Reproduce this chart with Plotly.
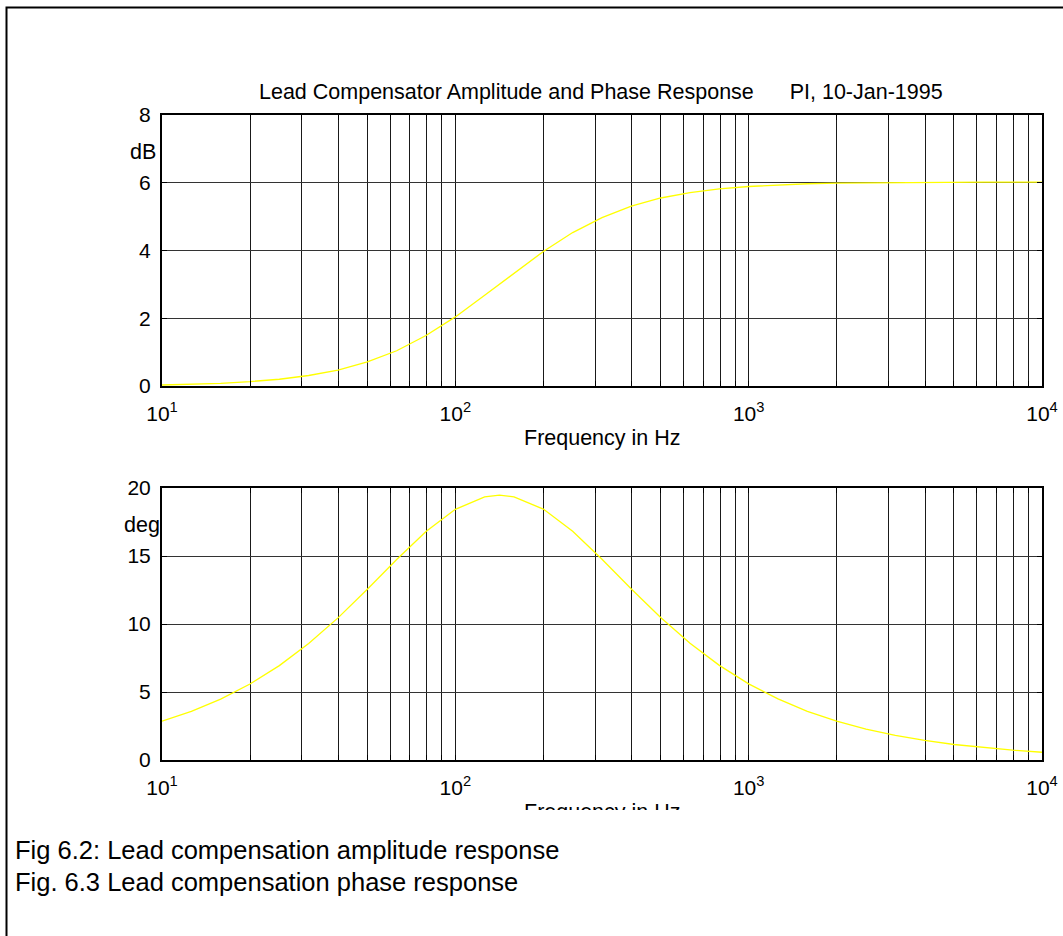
import plotly.graph_objects as go

# ---- data ----
freq_hz = [10, 12.59, 15.85, 19.95, 25.12, 31.62, 39.81, 50.12, 63.10, 79.43,
           100, 125.9, 141.4, 158.5, 199.5, 251.2, 316.2, 398.1, 501.2, 631.0, 794.3,
           1000, 1259, 1585, 1995, 2512, 3162, 3981, 5012, 6310, 7943, 10000]
amplitude_db = [0.03, 0.05, 0.08, 0.13, 0.20, 0.31, 0.47, 0.71, 1.04, 1.49,
                2.04, 2.68, 3.01, 3.34, 3.97, 4.53, 4.97, 5.31, 5.55, 5.71, 5.82,
                5.89, 5.94, 5.97, 5.99, 6.00, 6.01, 6.01, 6.02, 6.02, 6.02, 6.02]
phase_deg = [2.85, 3.58, 4.48, 5.59, 6.94, 8.57, 10.45, 12.55, 14.74, 16.80,
             18.43, 19.35, 19.47, 19.35, 18.45, 16.82, 14.76, 12.57, 10.48, 8.59, 6.96,
             5.60, 4.49, 3.58, 2.86, 2.27, 1.81, 1.44, 1.14, 0.91, 0.72, 0.57]

x_decades = [10, 100, 1000, 10000]
x_decade_labels = ["10<sup>1</sup>", "10<sup>2</sup>", "10<sup>3</sup>", "10<sup>4</sup>"]
x_minor_vals = [20, 30, 40, 50, 60, 70, 80, 90,
                200, 300, 400, 500, 600, 700, 800, 900,
                2000, 3000, 4000, 5000, 6000, 7000, 8000, 9000]
amp_ticks = [0, 2, 4, 6, 8]
phase_ticks = [0, 5, 10, 15, 20]

title_text = "Lead Compensator Amplitude and Phase Response"
title_note = "PI, 10-Jan-1995"
xlabel_text = "Frequency in Hz"
amp_unit = "dB"
phase_unit = "deg"
caption_1 = "Fig 6.2: Lead compensation amplitude response"
caption_2 = "Fig. 6.3 Lead compensation phase response"

# ---- layout helpers (pixel -> paper) ----
W, H = 1063, 936
FONT = "Arial, 'Liberation Sans', sans-serif"
TICK_SIZE = 21
TEXT_SIZE = 21.5
CAPTION_SIZE = 25.5


def px(x):
    return x / W


def py(y):
    return 1 - y / H


PLOT_L, PLOT_R = 162, 1042
TOP_T, TOP_B = 115, 386
BOT_T, BOT_B = 488, 760

fig = go.Figure()
fig.add_trace(go.Scatter(x=freq_hz, y=amplitude_db, mode="lines",
                         line=dict(color="#ffff00", width=1.3),
                         xaxis="x", yaxis="y", showlegend=False))
fig.add_trace(go.Scatter(x=freq_hz, y=phase_deg, mode="lines",
                         line=dict(color="#ffff00", width=1.3),
                         xaxis="x2", yaxis="y2", showlegend=False))

xaxis_common = dict(
    type="log", range=[1, 4], tickmode="array", tickvals=x_decades,
    ticktext=x_decade_labels, showgrid=True, gridcolor="#1a1a1a", gridwidth=1,
    minor=dict(tickmode="array", tickvals=x_minor_vals, showgrid=True,
               gridcolor="#1a1a1a", gridwidth=1, ticks="inside", ticklen=5,
               tickcolor="black", tickwidth=1),
    showline=True, linecolor="black", linewidth=2, mirror="allticks",
    ticks="inside", ticklen=5, tickcolor="black", tickwidth=1,
    ticklabelstandoff=8,
    tickfont=dict(family=FONT, size=TICK_SIZE, color="black"),
    zeroline=False, automargin=False, fixedrange=True,
)
yaxis_common = dict(
    showgrid=True, gridcolor="#333333", gridwidth=1,
    showline=True, linecolor="black", linewidth=2, mirror="allticks",
    ticks="inside", ticklen=5, tickcolor="black", tickwidth=1,
    ticklabelstandoff=5,
    tickfont=dict(family=FONT, size=TICK_SIZE, color="black"),
    zeroline=False, automargin=False, fixedrange=True,
)

fig.update_layout(
    template="none",
    width=W, height=H,
    margin=dict(l=0, r=0, t=0, b=0, pad=0),
    paper_bgcolor="white", plot_bgcolor="white",
    showlegend=False,
    xaxis=dict(domain=[px(PLOT_L), px(PLOT_R)], anchor="y", **xaxis_common),
    yaxis=dict(domain=[py(TOP_B), py(TOP_T)], anchor="x", range=[0, 8],
               tickmode="array", tickvals=amp_ticks, **yaxis_common),
    xaxis2=dict(domain=[px(PLOT_L), px(PLOT_R)], anchor="y2", **xaxis_common),
    yaxis2=dict(domain=[py(BOT_B), py(BOT_T)], anchor="x2", range=[0, 20],
                tickmode="array", tickvals=phase_ticks, **yaxis_common),
)

# outer frame (extends beyond right and bottom edges)
fig.add_shape(type="rect", xref="paper", yref="paper",
              x0=px(6.5), y0=-0.05, x1=1.05, y1=py(7.5),
              line=dict(color="black", width=2), fillcolor="rgba(0,0,0,0)")

ann = []
ann.append(dict(text=title_text + "\u00a0" * 6 + title_note,
                x=px(601), y=py(92), xanchor="center", yanchor="middle",
                font=dict(family=FONT, size=TEXT_SIZE, color="black")))
ann.append(dict(text=amp_unit, x=px(158), y=py(152), xanchor="right", yanchor="middle",
                font=dict(family=FONT, size=TEXT_SIZE, color="black")))
ann.append(dict(text=phase_unit, x=px(162), y=py(525), xanchor="right", yanchor="middle",
                font=dict(family=FONT, size=TEXT_SIZE, color="black")))
ann.append(dict(text=xlabel_text, x=px(602), y=py(438), xanchor="center", yanchor="middle",
                font=dict(family=FONT, size=TEXT_SIZE, color="black")))
ann.append(dict(text=xlabel_text, x=px(602), y=py(812), xanchor="center", yanchor="middle",
                font=dict(family=FONT, size=TEXT_SIZE, color="black")))
# white cover clipping the lower part of the second x label
ann.append(dict(text=" ", x=px(602), y=py(810), xanchor="center", yanchor="top",
                width=230, height=26, bgcolor="white", borderpad=0, borderwidth=0,
                font=dict(family=FONT, size=10, color="white")))
ann.append(dict(text=caption_1, x=px(13), y=py(850), xanchor="left", yanchor="middle",
                font=dict(family=FONT, size=CAPTION_SIZE, color="black")))
ann.append(dict(text=caption_2, x=px(13), y=py(882), xanchor="left", yanchor="middle",
                font=dict(family=FONT, size=CAPTION_SIZE, color="black")))
for a in ann:
    a.update(xref="paper", yref="paper", showarrow=False)
fig.update_layout(annotations=ann)

fig.write_html("out.html", post_script="document.body.style.margin='0';",
               config={"displayModeBar": False, "staticPlot": True})
